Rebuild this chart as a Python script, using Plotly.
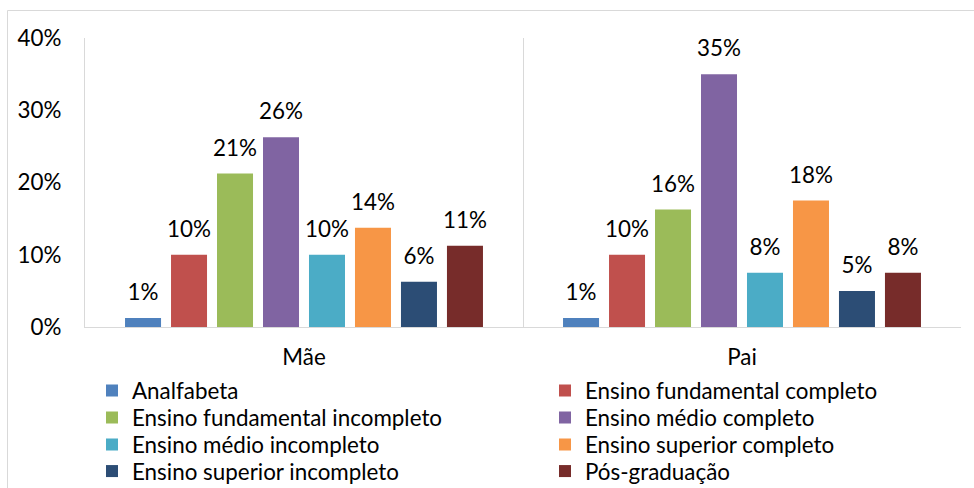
import plotly.graph_objects as go

categories = ["Mãe", "Pai"]
series_names = [
    "Analfabeta",
    "Ensino fundamental completo",
    "Ensino fundamental incompleto",
    "Ensino médio completo",
    "Ensino médio incompleto",
    "Ensino superior completo",
    "Ensino superior incompleto",
    "Pós-graduação",
]
mae_values = [1.25, 10.0, 21.25, 26.25, 10.0, 13.75, 6.25, 11.25]
pai_values = [1.25, 10.0, 16.25, 35.0, 7.5, 17.5, 5.0, 7.5]
colors = ["#4F81BD", "#C0504D", "#9BBB59", "#8064A2",
          "#4BACC6", "#F79646", "#2C4D75", "#772C2A"]
y_ticks = [0, 10, 20, 30, 40]
y_tick_labels = ["0%", "10%", "20%", "30%", "40%"]

W, H = 974, 488
L, R, T, B = 85, 13, 38, 161
pw, ph = W - L - R, H - T - B


def px_x(x):
    return (x - L) / pw


def px_y(y):
    return (H - B - y) / ph


FONT = "Lato"
FS = 22.4

# legend layout: two columns, four rows (text start x, row centre y in px)
legend_cols = [92, 545]
legend_rows = [391, 418, 445, 471.5]

fig = go.Figure()
legend_layout = {}
for i, name in enumerate(series_names):
    vals = [mae_values[i], pai_values[i]]
    lid = "legend" if i == 0 else f"legend{i + 1}"
    fig.add_trace(go.Bar(
        x=categories, y=vals, name=name,
        marker=dict(color=colors[i], line=dict(width=0)),
        offsetgroup=str(i),
        legend=lid,
        hoverinfo="skip",
    ))
    legend_layout[lid] = dict(
        orientation="v",
        x=px_x(legend_cols[i % 2]), y=px_y(legend_rows[i // 2]),
        xanchor="left", yanchor="middle",
        font=dict(family=FONT, size=FS, color="#000000"),
        bgcolor="rgba(0,0,0,0)", itemwidth=30, borderwidth=0,
    )

for i, name in enumerate(series_names):
    vals = [mae_values[i], pai_values[i]]
    fig.add_trace(go.Scatter(
        x=categories, y=vals, mode="markers+text",
        texttemplate="%{y:.0f}%",
        textposition="top center",
        textfont=dict(family=FONT, size=FS, color="#000000"),
        marker=dict(size=18, opacity=0),
        offsetgroup=str(i),
        showlegend=False, hoverinfo="skip",
    ))

fig.update_layout(
    width=W, height=H,
    margin=dict(l=L, r=R, t=T, b=B, autoexpand=False),
    paper_bgcolor="white", plot_bgcolor="white",
    font=dict(family=FONT, size=FS, color="#000000"),
    barmode="group", bargap=0.16, bargroupgap=0.217,
    scattermode="group", scattergap=0.16,
    xaxis=dict(type="category", range=[-0.5, 1.5], tickson="boundaries",
               showgrid=True, gridcolor="#D9D9D9", gridwidth=1,
               showline=True, linecolor="#D9D9D9", linewidth=1,
               ticks="", ticklabelstandoff=10, fixedrange=True,
               automargin=False),
    yaxis=dict(range=[0, 40], tickvals=y_ticks, ticktext=y_tick_labels,
               showgrid=False, zeroline=False,
               showline=True, linecolor="#D9D9D9", linewidth=1,
               ticks="", ticklabelstandoff=18, fixedrange=True,
               automargin=False),
    shapes=[dict(type="rect", xref="paper", yref="paper",
                 x0=px_x(7.5), x1=px_x(990), y0=px_y(500), y1=px_y(10.5),
                 line=dict(color="#D9D9D9", width=1), layer="below")],
    **legend_layout,
)

fig.write_html("out.html")
